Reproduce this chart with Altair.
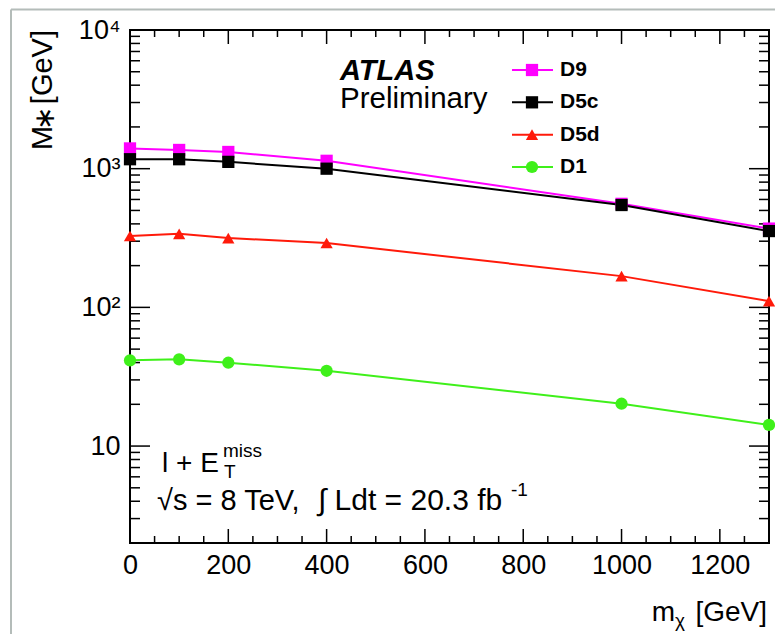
import altair as alt
import pandas as pd

# ---- data ----
mchi = [0, 100, 200, 400, 1000, 1300]
series = ["D9", "D5c", "D5d", "D1"]
colors = ["#ff00ff", "#000000", "#ff1a0a", "#3ff01a"]
shapes = ["square", "square", "triangle-up", "circle"]
msizes = [150, 150, 150, 110]
legend_sizes = [100, 70, 90, 90]
values = {
    "D9": [1400, 1365, 1320, 1140, 558, 370],
    "D5c": [1170, 1170, 1120, 1000, 547, 355],
    "D5d": [327, 339, 316, 291, 168, 111],
    "D1": [41.5, 42.2, 39.9, 34.9, 20.2, 14.2],
}
draw_order = ["D1", "D5d", "D9", "D5c"]

x_major = [0, 200, 400, 600, 800, 1000, 1200]
x_minor = [v for v in range(50, 1300, 50) if v % 200 != 0]
y_major = [10, 100, 1000]
y_minor = [m * d for d in [1, 10, 100, 1000] for m in range(2, 10)]

W, H = 639, 513
FONT = "Liberation Sans"

rows = []
for s in draw_order:
    for xv, yv in zip(mchi, values[s]):
        rows.append({"series": s, "mchi": xv, "M": yv})
df = pd.DataFrame(rows)

xs = alt.Scale(domain=[0, 1300], nice=False, zero=False)
ys = alt.Scale(type="log", domain=[2, 10000], nice=False)
cs = alt.Scale(domain=series, range=colors)
ss = alt.Scale(domain=series, range=shapes)

X = alt.X("mchi:Q", scale=xs, title=None,
          axis=alt.Axis(values=x_major, ticks=False, domain=False, grid=False,
                        labelFontSize=27, labelPadding=9, labelColor="black",
                        labelFont=FONT, format="d", labelFlush=False))
Y = alt.Y("M:Q", scale=ys, title=None,
          axis=alt.Axis(values=[10, 100, 1000, 10000], ticks=False, domain=False,
                        grid=False, labelFontSize=27, labelPadding=10,
                        labelColor="black", labelFont=FONT, labelFlush=False,
                        labelExpr="datum.value == 10 ? '10' : datum.value == 100 ? '10²' : datum.value == 1000 ? '10³' : '10⁴'"))

XN = alt.X("mchi:Q", scale=xs, axis=None)
YN = alt.Y("M:Q", scale=ys, axis=None)

lines = alt.Chart(df).mark_line(strokeWidth=2).encode(
    x=X, y=Y,
    color=alt.Color("series:N", scale=cs, legend=None),
    detail="series:N",
)
points = alt.Chart(df).mark_point(filled=True, opacity=1).encode(
    x=XN, y=YN,
    color=alt.Color("series:N", scale=cs, legend=None),
    shape=alt.Shape("series:N", scale=ss, legend=None),
    size=alt.Size("series:N", scale=alt.Scale(domain=series, range=msizes), legend=None),
)

# ---- inward ticks on all four sides ----
def yticks(vals, length):
    d = pd.DataFrame({"v": vals})
    enc = alt.Y("v:Q", scale=ys, axis=None)
    left = alt.Chart(d).mark_rule(color="black", strokeWidth=1.5).encode(
        y=enc, x=alt.value(0), x2=alt.value(length))
    right = alt.Chart(d).mark_rule(color="black", strokeWidth=1.5).encode(
        y=enc, x=alt.value(W), x2=alt.value(W - length))
    return [left, right]

def xticks(vals, length):
    d = pd.DataFrame({"v": vals})
    enc = alt.X("v:Q", scale=xs, axis=None)
    bot = alt.Chart(d).mark_rule(color="black", strokeWidth=1.5).encode(
        x=enc, y=alt.value(H), y2=alt.value(H - length))
    top = alt.Chart(d).mark_rule(color="black", strokeWidth=1.5).encode(
        x=enc, y=alt.value(0), y2=alt.value(length))
    return [bot, top]

ticks = yticks(y_major, 20) + yticks(y_minor, 10) + xticks(x_major, 14) + xticks(x_minor, 7)

main = alt.layer(lines, *ticks, points).resolve_axis(x="independent", y="independent")

# ---- legend (manual, ROOT style) ----
leg_df = pd.DataFrame({"series": series})
LY = alt.Y("series:N", scale=alt.Scale(type="point", domain=series, range=[40, 137], padding=0), axis=None)
leg_line = alt.Chart(leg_df).mark_rule(strokeWidth=2).encode(
    y=LY, x=alt.value(382), x2=alt.value(423),
    color=alt.Color("series:N", scale=cs, legend=None))
leg_pt = alt.Chart(leg_df).mark_point(filled=True, opacity=1).encode(
    y=LY, x=alt.value(402),
    color=alt.Color("series:N", scale=cs, legend=None),
    shape=alt.Shape("series:N", scale=ss, legend=None),
    size=alt.Size("series:N", scale=alt.Scale(domain=series, range=legend_sizes), legend=None))
leg_txt = alt.Chart(leg_df).mark_text(align="left", baseline="middle", font=FONT,
                                      fontSize=21, fontWeight="bold", color="black").encode(
    y=LY, x=alt.value(430), text="series:N")
legend = alt.layer(leg_line, leg_pt, leg_txt)

# ---- text annotations ----
one = pd.DataFrame({"a": [0]})

def label(text, x, y, size=28, align="left", baseline="alphabetic", angle=0, **kw):
    props = dict(text=text, align=align, baseline=baseline, font=FONT,
                 fontSize=size, color="black", **kw)
    if angle:
        props["angle"] = angle
    return alt.Chart(one).mark_text(**props).encode(x=alt.value(x), y=alt.value(y))

texts = [
    label("ATLAS", 210, 50, size=29, fontWeight="bold", fontStyle="italic"),
    label("Preliminary", 210, 78, size=29.5),
    label("l + E", 32, 442, size=28),
    label("miss", 93, 427, size=19),
    label("T", 94, 448, size=19),
    label("√s = 8 TeV,", 27, 480, size=29),
    label("∫ Ldt = 20.3 fb", 188, 480, size=30),
    label("-1", 381, 466, size=19),
    # x-axis title
    label("m", 545, 591, size=28, align="right"),
    label("χ", 545, 597, size=19),
    label("[GeV]", 637, 591, size=28, align="right"),
    # y-axis title (rotated)
    label("M", -78, 120, size=29, angle=270),
    label("∗", -84, 88, size=28, angle=270, baseline="middle", align="center"),
    label("[GeV]", -78, 0, size=29, angle=270, align="right"),
]

# screenshot frame (grey lines at top and left of the picture)
frame = [
    alt.Chart(one).mark_rule(color="#b4bcb9", strokeWidth=2).encode(
        x=alt.value(-119), x2=alt.value(W + 6), y=alt.value(-20.5)),
    alt.Chart(one).mark_rule(color="#b4bcb9", strokeWidth=2).encode(
        x=alt.value(-119), y=alt.value(-20.5), y2=alt.value(H + 91)),
]

chart = alt.layer(
    main, *frame, legend, *texts
).resolve_scale(y="independent").resolve_axis(x="independent", y="independent").properties(
    width=W, height=H,
    autosize=alt.AutoSizeParams(type="none"),
    padding={"left": 130, "top": 30, "right": 6, "bottom": 91},
    background="white",
).configure_view(stroke="black", strokeWidth=2).configure_text(font=FONT)

chart.save("out.html", embed_options={"renderer": "svg", "actions": False})
